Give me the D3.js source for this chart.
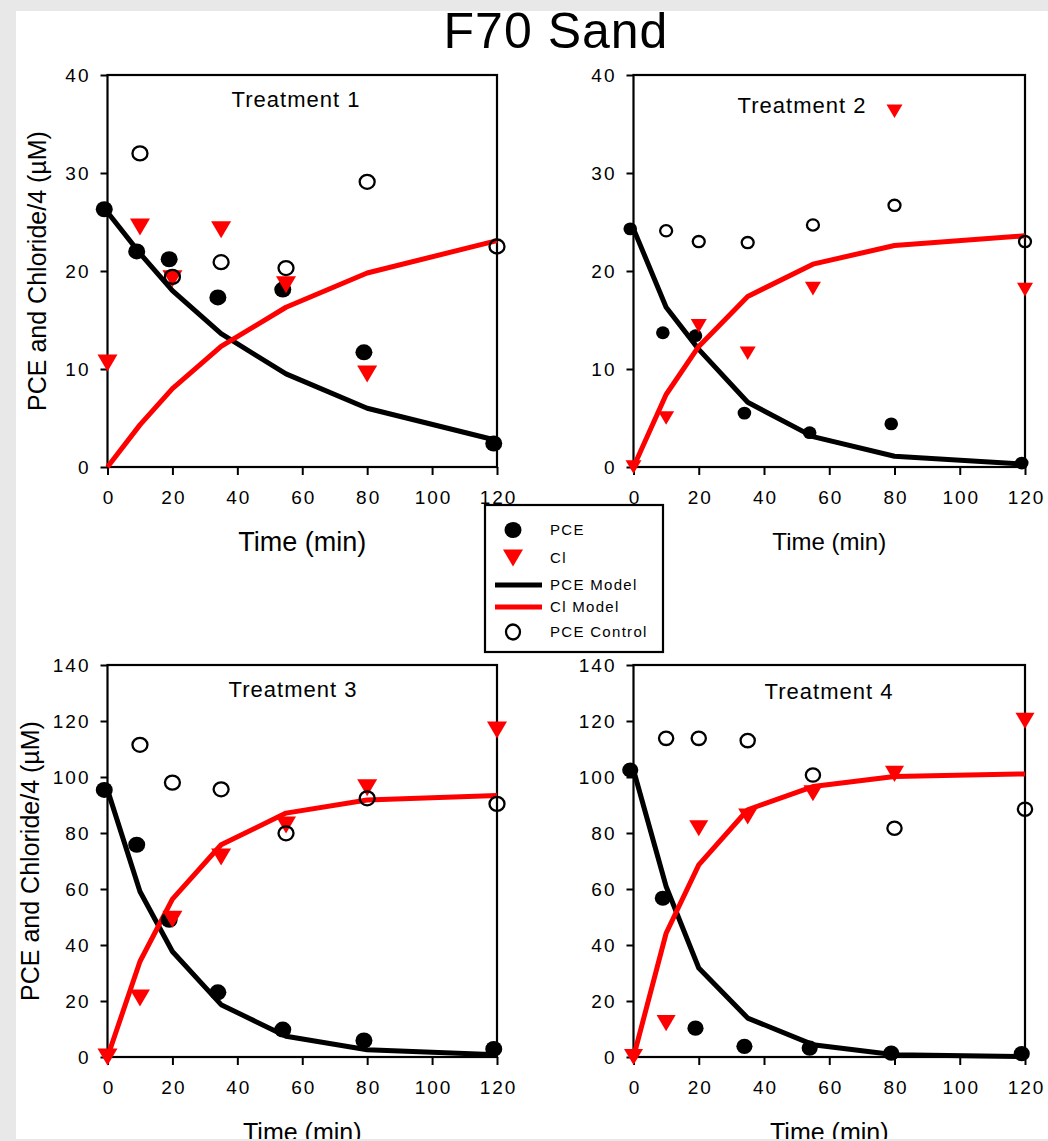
<!DOCTYPE html>
<html>
<head>
<meta charset="utf-8">
<script src="https://cdn.jsdelivr.net/npm/d3@7"></script>
<style>
  html, body { margin: 0; padding: 0; background: #e8e8e8; }
  #chart { position: absolute; left: 16px; top: 11px; width: 1032px; height: 1128px; background: #fff; overflow: hidden; }
  text { font-family: Arial, "Liberation Sans", sans-serif; }
</style>
</head>
<body>
<div id="chart"></div>
<script>
// sampling times (min)
const pceTimes = [-1, 9, 19, 34, 54, 79, 119];
const clTimes = [0, 10, 20, 35, 55, 80, 120];
const ctrlTimes = [10, 20, 35, 55, 80, 120];
const modelTimes = [0, 10, 20, 35, 55, 80, 120];
const xTicks = [0, 20, 40, 60, 80, 100, 120];

// Treatment 1
const t1Pce = [26.3, 22.0, 21.2, 17.3, 18.1, 11.7, 2.4];
const t1Cl = [10.6, 24.5, 19.2, 24.2, 18.6, 9.5];
const t1Ctrl = [32.0, 19.4, 20.9, 20.3, 29.1, 22.5];
const t1PceModel = [26.0, 21.8, 18.0, 13.6, 9.5, 6.0, 2.7];
const t1ClModel = [0, 4.3, 8.0, 12.3, 16.3, 19.8, 23.1];

// Treatment 2
const t2Pce = [24.3, 13.7, 13.4, 5.5, 3.5, 4.4, 0.4];
const t2Cl = [0, 5.0, 14.4, 11.6, 18.2, 36.3, 18.1];
const t2Ctrl = [24.1, 23.0, 22.9, 24.7, 26.7, 23.0];
const t2PceModel = [24.3, 16.3, 12.0, 6.6, 3.1, 1.1, 0.3];
const t2ClModel = [0, 7.4, 12.3, 17.4, 20.7, 22.6, 23.6];

// Treatment 3
const t3Pce = [95.4, 75.8, 49.0, 23.1, 9.8, 5.9, 2.9];
const t3Cl = [0, 21.1, 49.2, 71.4, 82.9, 96.2, 116.8];
const t3Ctrl = [111.5, 98.0, 95.6, 79.9, 92.4, 90.4];
const t3PceModel = [95.4, 59.1, 37.7, 18.7, 7.4, 2.6, 0.8];
const t3ClModel = [0, 34.1, 56.4, 75.8, 87.1, 91.8, 93.4];

// Treatment 4
const t4Pce = [102.5, 56.7, 10.3, 3.8, 3.2, 1.4, 1.2];
const t4Cl = [0, 12.1, 81.7, 85.9, 94.2, 101.1, 120.1];
const t4Ctrl = [113.8, 113.8, 113.0, 100.7, 81.7, 88.5];
const t4PceModel = [102.5, 60.9, 31.8, 13.9, 4.4, 0.8, 0.1];
const t4ClModel = [0, 44.2, 68.6, 88.3, 96.6, 100.2, 101.1];

const yTicksSmall = [0, 10, 20, 30, 40];
const yTicksLarge = [0, 20, 40, 60, 80, 100, 120, 140];

const legendLabels = ["PCE", "Cl", "PCE Model", "Cl Model", "PCE Control"];

const panels = [
  { title: "Treatment 1", ymax: 40, yTicks: yTicksSmall, pce: t1Pce, cl: t1Cl, ctrl: t1Ctrl, pceModel: t1PceModel, clModel: t1ClModel,
    left: 107.5, right: 497, top: 75, bottom: 467, titleX: 296, titleY: 107, xlabY: 551, xlabSize: 27, ylab: true, ylabX: 46, ms: 1 },
  { title: "Treatment 2", ymax: 40, yTicks: yTicksSmall, pce: t2Pce, cl: t2Cl, ctrl: t2Ctrl, pceModel: t2PceModel, clModel: t2ClModel,
    left: 633.5, right: 1025, top: 75, bottom: 467, titleX: 802, titleY: 113, xlabY: 550, xlabSize: 24, ylab: false, ms: 0.8 },
  { title: "Treatment 3", ymax: 140, yTicks: yTicksLarge, pce: t3Pce, cl: t3Cl, ctrl: t3Ctrl, pceModel: t3PceModel, clModel: t3ClModel,
    left: 107.5, right: 497, top: 665, bottom: 1057, titleX: 293, titleY: 697, xlabY: 1141, xlabSize: 25, ylab: true, ylabX: 39, ms: 1 },
  { title: "Treatment 4", ymax: 140, yTicks: yTicksLarge, pce: t4Pce, cl: t4Cl, ctrl: t4Ctrl, pceModel: t4PceModel, clModel: t4ClModel,
    left: 633.5, right: 1025, top: 665, bottom: 1057, titleX: 829, titleY: 699, xlabY: 1141, xlabSize: 25, ylab: false, ms: 0.95 }
];

const RED = "#ff0000";

const svg = d3.select("#chart").append("svg")
  .attr("width", 1032)
  .attr("height", 1128)
  .append("g")
  .attr("transform", "translate(-16,-11)");

svg.append("text")
  .attr("x", 556).attr("y", 48)
  .attr("text-anchor", "middle")
  .attr("font-size", "50px")
  .attr("letter-spacing", "1px")
  .text("F70 Sand");

function triPath(w, h) {
  return `M${-w / 2},${-h / 2}L${w / 2},${-h / 2}L0,${h / 2}Z`;
}

panels.forEach((p) => {
  const x = d3.scaleLinear().domain([0, 120]).range([p.left, p.right]);
  const y = d3.scaleLinear().domain([0, p.ymax]).range([p.bottom, p.top]);
  const g = svg.append("g");

  // axes
  g.append("g")
    .attr("transform", `translate(${p.left},0)`)
    .call(d3.axisLeft(y).tickValues(p.yTicks).tickSize(7).tickPadding(10))
    .call((a) => a.select(".domain").remove())
    .call((a) => a.selectAll("line").attr("stroke", "#000").attr("stroke-width", 2))
    .selectAll("text")
    .attr("fill", "#000")
    .attr("font-size", "19px")
    .attr("letter-spacing", "2px")
    .attr("font-family", "Arial, 'Liberation Sans', sans-serif");

  g.append("g")
    .attr("transform", `translate(0,${p.bottom})`)
    .call(d3.axisBottom(x).tickValues(xTicks).tickSize(8).tickPadding(16))
    .call((a) => a.select(".domain").remove())
    .call((a) => a.selectAll("line").attr("stroke", "#000").attr("stroke-width", 2))
    .selectAll("text")
    .attr("fill", "#000")
    .attr("font-size", "19px")
    .attr("letter-spacing", "2px")
    .attr("dx", "1px")
    .attr("font-family", "Arial, 'Liberation Sans', sans-serif");

  // frame
  g.append("rect")
    .attr("x", p.left).attr("y", p.top)
    .attr("width", p.right - p.left).attr("height", p.bottom - p.top)
    .attr("fill", "none").attr("stroke", "#000").attr("stroke-width", 2.2);

  // model lines
  const line = d3.line().x((d) => x(d.t)).y((d) => y(d.v));
  g.append("path")
    .datum(modelTimes.map((t, i) => ({ t, v: p.pceModel[i] })))
    .attr("d", line).attr("fill", "none")
    .attr("stroke", "#000").attr("stroke-width", 5).attr("stroke-linejoin", "round");
  g.append("path")
    .datum(modelTimes.map((t, i) => ({ t, v: p.clModel[i] })))
    .attr("d", line).attr("fill", "none")
    .attr("stroke", RED).attr("stroke-width", 5).attr("stroke-linejoin", "round");

  // PCE
  g.selectAll(".pce")
    .data(p.pce.map((v, i) => ({ t: pceTimes[i], v })))
    .join("ellipse")
    .attr("cx", (d) => x(d.t)).attr("cy", (d) => y(d.v))
    .attr("rx", 8.5 * p.ms).attr("ry", 8 * p.ms)
    .attr("fill", "#000");

  // Cl
  g.selectAll(".cl")
    .data(p.cl.map((v, i) => ({ t: clTimes[i], v })))
    .join("path")
    .attr("transform", (d) => `translate(${x(d.t)},${y(d.v)})`)
    .attr("d", triPath(20 * p.ms, 17 * p.ms))
    .attr("fill", RED);

  // PCE control
  g.selectAll(".ctrl")
    .data(p.ctrl.map((v, i) => ({ t: ctrlTimes[i], v })))
    .join("ellipse")
    .attr("cx", (d) => x(d.t)).attr("cy", (d) => y(d.v))
    .attr("rx", 7.5 * p.ms).attr("ry", 7 * p.ms)
    .attr("fill", "none").attr("stroke", "#000").attr("stroke-width", 2.3);

  // labels
  g.append("text")
    .attr("x", p.titleX).attr("y", p.titleY)
    .attr("text-anchor", "middle")
    .attr("font-size", "22px")
    .attr("letter-spacing", "1px")
    .text(p.title);

  g.append("text")
    .attr("x", (p.left + p.right) / 2).attr("y", p.xlabY)
    .attr("text-anchor", "middle")
    .attr("font-size", p.xlabSize + "px")
    .text("Time (min)");

  if (p.ylab) {
    g.append("text")
      .attr("transform", `translate(${p.ylabX},${(p.top + p.bottom) / 2}) rotate(-90)`)
      .attr("text-anchor", "middle")
      .attr("font-size", "25px")
      .text("PCE and Chloride/4 (\u00b5M)");
  }
});

// legend
const lg = svg.append("g").attr("transform", "translate(485,505)");
lg.append("rect")
  .attr("width", 178).attr("height", 147)
  .attr("fill", "#fff").attr("stroke", "#000").attr("stroke-width", 2.2);

const rowY = [25, 53, 80, 102, 127];
legendLabels.forEach((label, i) => {
  const row = lg.append("g").attr("transform", `translate(0,${rowY[i]})`);
  if (i === 0) {
    row.append("ellipse").attr("cx", 28).attr("cy", 0).attr("rx", 8.5).attr("ry", 8).attr("fill", "#000");
  } else if (i === 1) {
    row.append("path").attr("transform", "translate(28,0)").attr("d", triPath(20, 17)).attr("fill", RED);
  } else if (i === 2 || i === 3) {
    row.append("line").attr("x1", 10).attr("x2", 57).attr("y1", 0).attr("y2", 0)
      .attr("stroke", i === 2 ? "#000" : RED).attr("stroke-width", 5);
  } else {
    row.append("ellipse").attr("cx", 28).attr("cy", 0).attr("rx", 7).attr("ry", 7.5)
      .attr("fill", "none").attr("stroke", "#000").attr("stroke-width", 2.3);
  }
  row.append("text")
    .attr("x", 65).attr("y", 0).attr("dy", "0.35em")
    .attr("font-size", "15px")
    .attr("letter-spacing", "1.3px")
    .text(label);
});
</script>
</body>
</html>
